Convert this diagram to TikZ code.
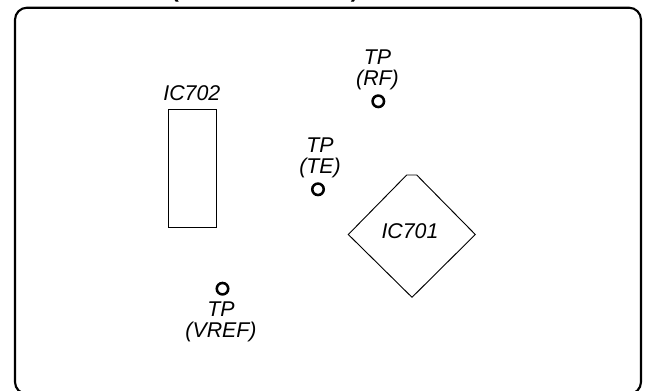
\documentclass[tikz,border=0pt]{standalone}
\usepackage{fontspec}
\setmainfont{Liberation Sans}
\tikzset{x=0.75pt,y=-0.75pt,
  lab/.style={font=\fontsize{16}{15.4}\selectfont\itshape,inner sep=0pt,align=center,text=black,anchor=base},
  tp/.style={circle,draw=black,line width=1.9pt,minimum size=8.6pt,inner sep=0pt},
  part/.style={draw=black,line width=0.7pt,fill=none}}
\begin{document}
\begin{tikzpicture}
\useasboundingbox (0,0) rectangle (647,390);
\fill[white] (0,0) rectangle (647,390);
\begin{scope}
\clip (0,0) rectangle (647,390);
\node[inner sep=0pt,font=\fontsize{17}{17}\selectfont\bfseries] (title) at (265,-8.5) {(\hspace{129pt})};
\end{scope}
\draw[black,line width=1.6pt,rounded corners=9pt] (15,394) -- (15,7.7) -- (641,7.7) -- (641,394) -- cycle;
\node[part,minimum width=35.8pt,minimum height=88.7pt,inner sep=0pt] (ic702) at (192.2,168.2) {};
\node[lab] (l702) at (191.8,100.7) {IC702};
\draw[part] (348.3,234.5) -- (406.7,175) -- (416.7,175) -- (475.3,234.5) -- (412,297.3) -- cycle;
\node[lab] (l701) at (410,238.5) {IC701};
\node[tp] (rf) at (378.3,101.3) {};
\node[lab] (lrf) at (377.5,85.5) {TP\\(RF)};
\node[tp] (te) at (318,189.3) {};
\node[lab] (lte) at (320,173.5) {TP\\(TE)};
\node[tp] (vref) at (222.5,288.7) {};
\node[lab] (lvref) at (221,337) {TP\\(VREF)};
\end{tikzpicture}
\end{document}
